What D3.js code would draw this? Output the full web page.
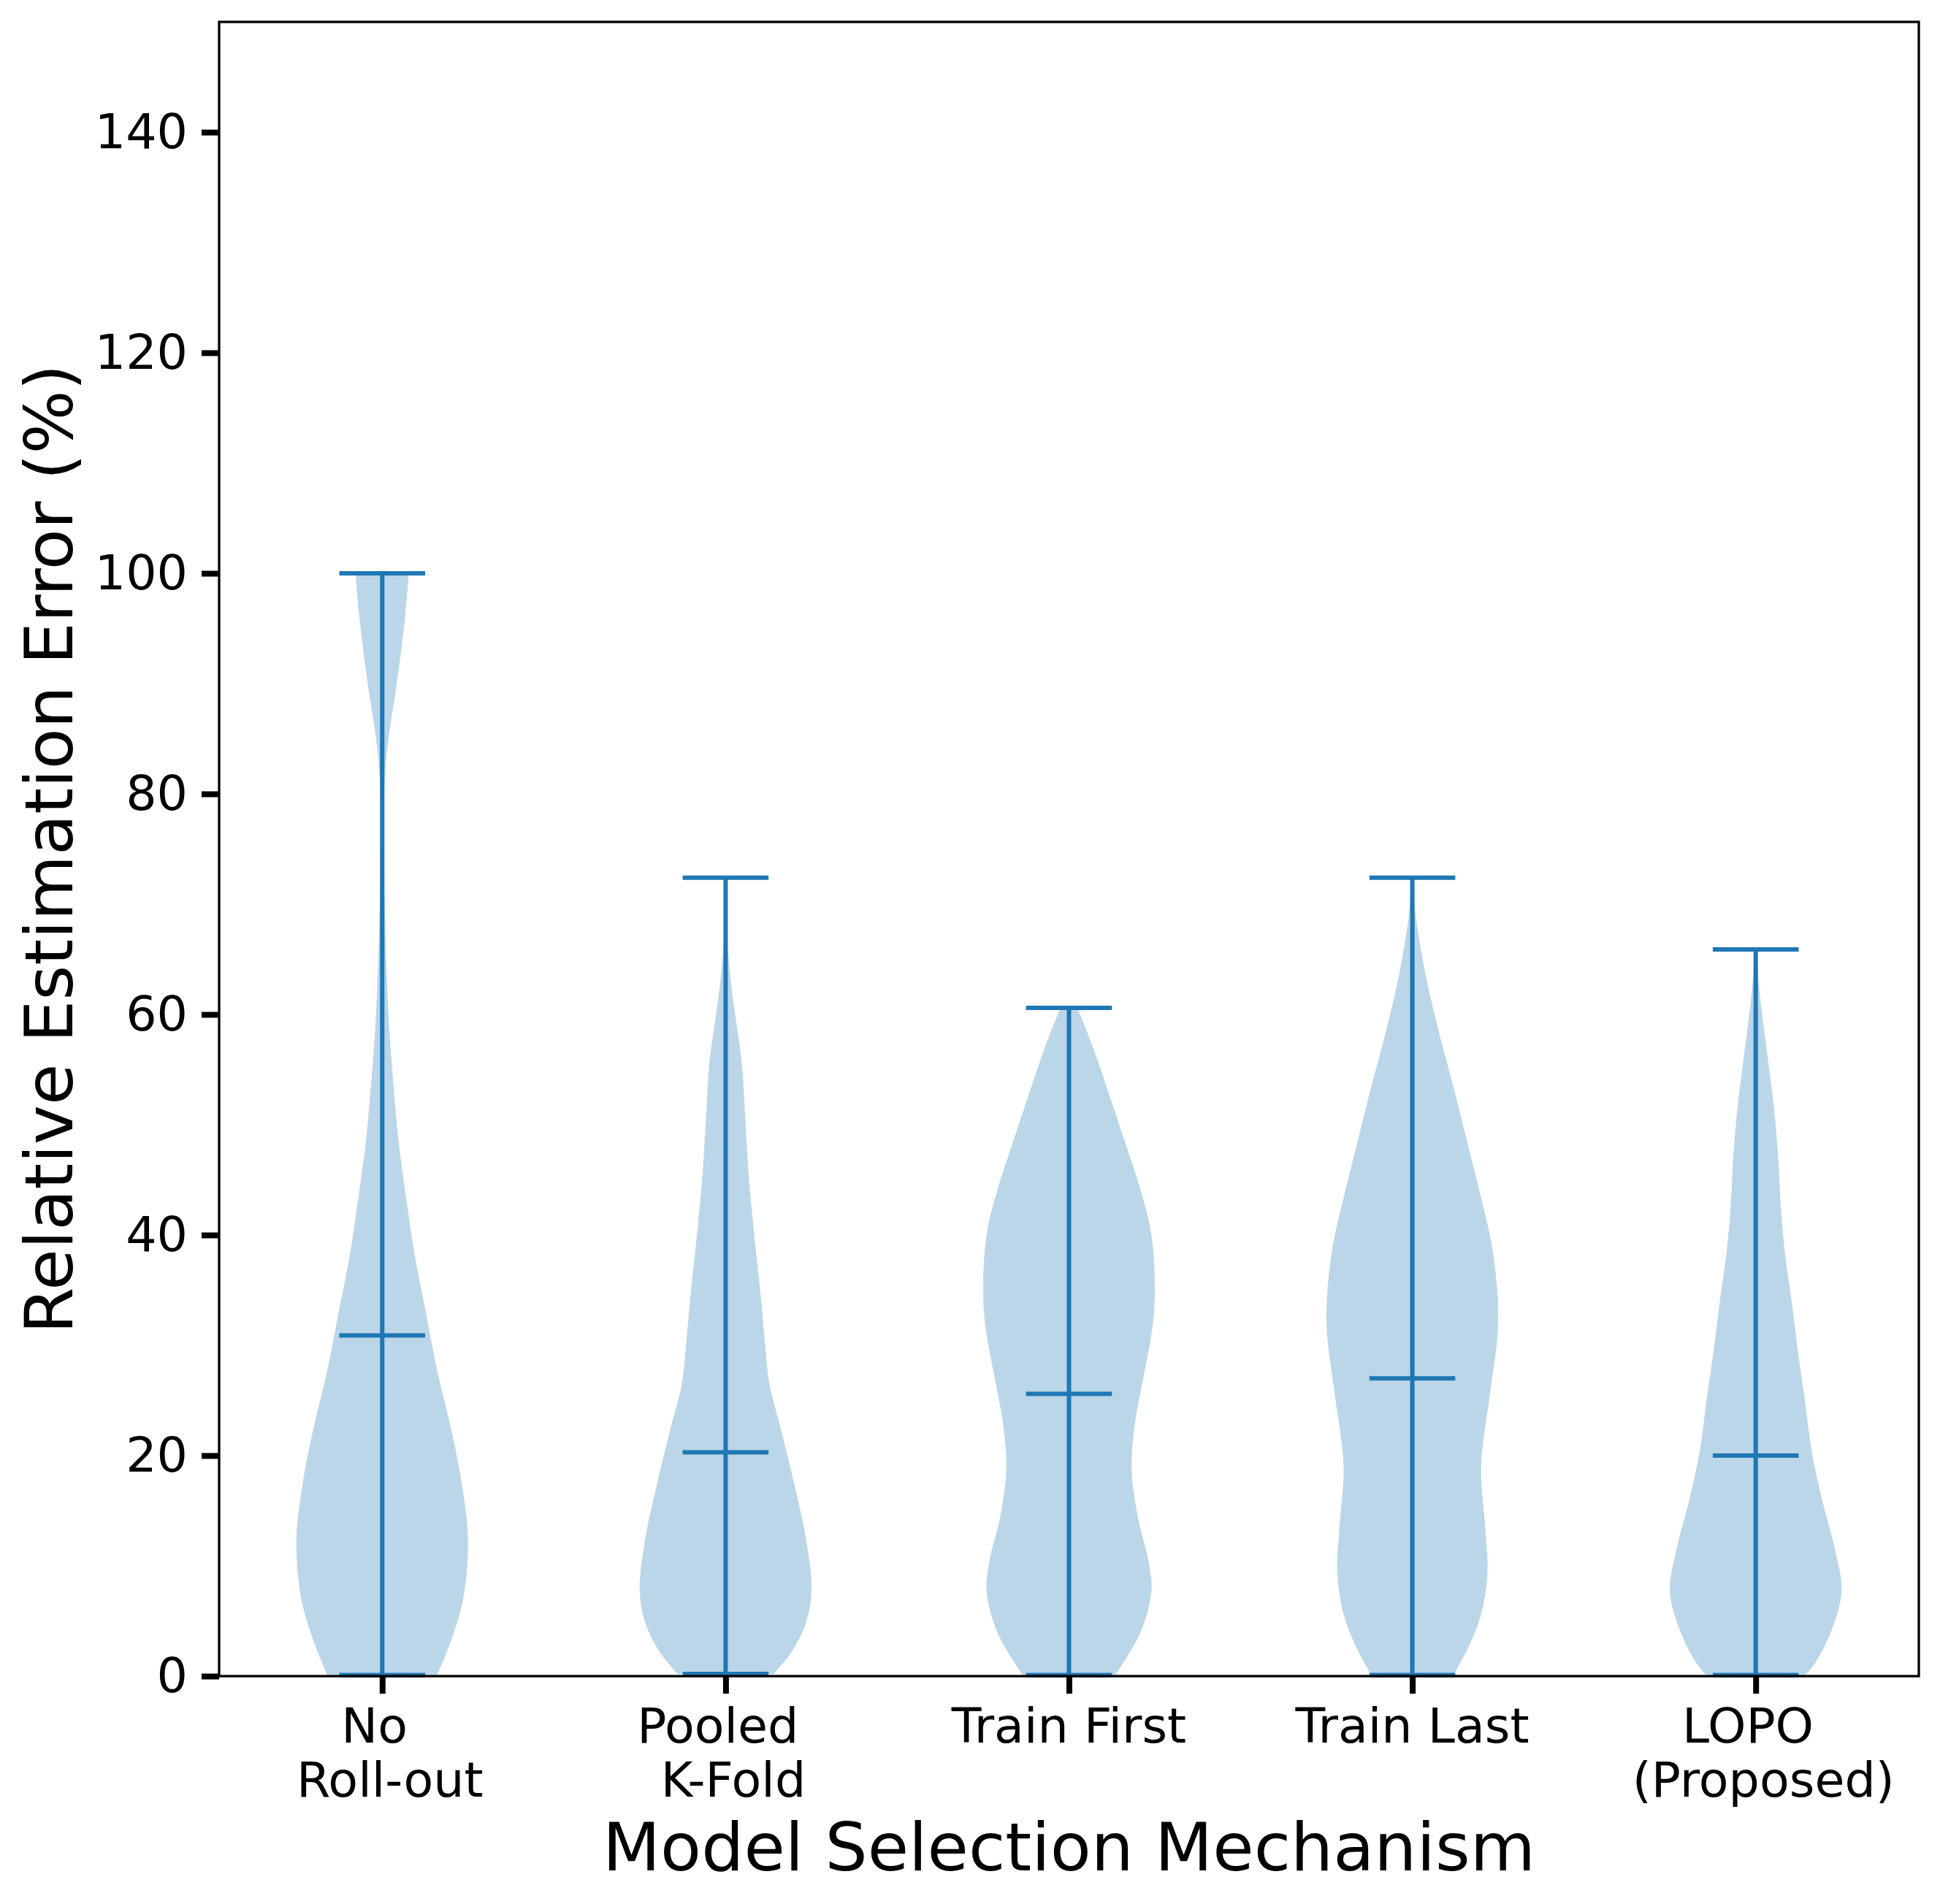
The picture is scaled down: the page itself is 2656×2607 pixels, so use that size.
<!DOCTYPE html>
<html>
<head>
<meta charset="utf-8">
<script src="https://cdn.jsdelivr.net/npm/d3@7"></script>
<style>
  body { margin: 0; background: #fff; }
  text { font-family: "DejaVu Sans", sans-serif; fill: #000; }
</style>
</head>
<body>
<div id="chart"></div>
<script>
var svgWidth = 2656;
var svgHeight = 2607;

var margin = { top: 30, right: 29, bottom: 312, left: 300 };
var width = svgWidth - margin.left - margin.right;
var height = svgHeight - margin.top - margin.bottom;

// categories (labels keep the spaces around the line break, like the original)
var labelLines = [
  ["No ", " Roll-out"],
  ["Pooled ", " K-Fold"],
  ["Train First"],
  ["Train Last"],
  ["LOPO ", " (Proposed)"]
];
var positions = [1, 2, 3, 4, 5];

// summary lines
var minima = [0.1, 0.2, 0.1, 0.1, 0.1];
var medians = [30.9, 20.3, 25.6, 27.0, 20.0];
var maxima = [100.0, 72.4, 60.6, 72.4, 65.9];

// violin outlines: [value, relative half width]
var violinNoRollout = [[0.1, 0.64], [3.2, 0.80], [6.9, 0.94], [12.1, 1.0], [17.3, 0.93], [22.5, 0.80],
  [27.7, 0.64], [32.9, 0.51], [38.1, 0.38], [43.3, 0.28], [48.5, 0.19], [53.7, 0.13], [58.9, 0.08],
  [64.1, 0.05], [69.3, 0.03], [74.0, 0.022], [79.3, 0.02], [82.7, 0.04], [86.0, 0.09], [89.5, 0.16],
  [93.0, 0.22], [96.3, 0.27], [100.0, 0.31]];
var violinPooled = [[0.2, 0.56], [2.1, 0.76], [4.7, 0.93], [7.7, 1.0], [12.3, 0.94], [17.4, 0.80],
  [22.5, 0.64], [26.5, 0.51], [30.1, 0.46], [35.2, 0.40], [40.3, 0.33], [45.3, 0.27], [50.4, 0.23],
  [55.5, 0.19], [60.6, 0.10], [63.1, 0.06], [66.7, 0.02], [70.0, 0.005], [72.4, 0.0]];
var violinTrainFirst = [[0.1, 0.54], [3.9, 0.83], [7.7, 0.96], [10.3, 0.93], [14.5, 0.80], [18.8, 0.73],
  [23.0, 0.77], [27.2, 0.87], [31.5, 0.97], [34.9, 1.0], [40.0, 0.96], [44.2, 0.83], [48.5, 0.65],
  [52.7, 0.47], [57.0, 0.28], [60.6, 0.10]];
var violinTrainLast = [[0.1, 0.48], [2.9, 0.67], [5.9, 0.81], [9.4, 0.875], [13.4, 0.85], [18.4, 0.80],
  [20.9, 0.82], [25.9, 0.91], [32.1, 1.0], [38.4, 0.94], [43.4, 0.80], [48.4, 0.64], [53.4, 0.48],
  [58.4, 0.31], [63.4, 0.16], [68.4, 0.05], [72.4, 0.0]];
var violinLOPO = [[0.1, 0.58], [1.4, 0.71], [4.1, 0.88], [7.7, 1.0], [11.6, 0.92], [16.1, 0.77],
  [20.5, 0.65], [25.2, 0.57], [29.5, 0.49], [33.9, 0.42], [38.4, 0.34], [42.8, 0.29], [47.3, 0.26],
  [51.7, 0.21], [56.1, 0.14], [60.6, 0.066], [65.9, 0.0]];
var violins = [violinNoRollout, violinPooled, violinTrainFirst, violinTrainLast, violinLOPO];

var yTicks = [0, 20, 40, 60, 80, 100, 120, 140];

var blue = "#1f77b4";

var svg = d3.select("#chart")
  .append("svg")
  .attr("width", svgWidth)
  .attr("height", svgHeight);

svg.append("rect")
  .attr("width", svgWidth)
  .attr("height", svgHeight)
  .attr("fill", "#fff");

var chartGroup = svg.append("g")
  .attr("transform", `translate(${margin.left}, ${margin.top})`);

var xScale = d3.scaleLinear()
  .domain([0.525, 5.475])
  .range([0, width]);

var yScale = d3.scaleLinear()
  .domain([0, 150])
  .range([height, 0]);

// half width of a violin = widths/2 with widths = 0.5
var halfW = xScale(1.25) - xScale(1);
var capW = xScale(1.125) - xScale(1);

// violin bodies
violins.forEach(function(profile, i) {
  var cx = xScale(positions[i]);
  var area = d3.area()
    .curve(d3.curveCatmullRom)
    .y(d => yScale(d[0]))
    .x0(d => cx - d[1] * halfW)
    .x1(d => cx + d[1] * halfW);

  chartGroup.append("path")
    .datum(profile)
    .attr("d", area)
    .attr("fill", blue)
    .attr("fill-opacity", 0.3);
});

// center bars, caps and medians
var lineGroup = chartGroup.append("g")
  .attr("stroke", blue)
  .attr("stroke-width", 6);

positions.forEach(function(p, i) {
  var cx = xScale(p);
  lineGroup.append("line")
    .attr("x1", cx).attr("x2", cx)
    .attr("y1", yScale(minima[i])).attr("y2", yScale(maxima[i]));
  [minima[i], medians[i], maxima[i]].forEach(function(v) {
    lineGroup.append("line")
      .attr("x1", cx - capW).attr("x2", cx + capW)
      .attr("y1", yScale(v)).attr("y2", yScale(v));
  });
});

// y axis
var leftAxis = d3.axisLeft(yScale)
  .tickValues(yTicks)
  .tickSize(24)
  .tickPadding(19);

var yAxis = chartGroup.append("g").call(leftAxis);
yAxis.select(".domain").remove();
yAxis.selectAll(".tick line").attr("stroke", "#000").attr("stroke-width", 8);
yAxis.selectAll(".tick text")
  .attr("font-size", "66.7px")
  .attr("font-family", "DejaVu Sans");

// x axis
var bottomAxis = d3.axisBottom(xScale)
  .tickValues(positions)
  .tickSize(24)
  .tickFormat("");

var xAxis = chartGroup.append("g")
  .attr("transform", `translate(0, ${height})`)
  .call(bottomAxis);
xAxis.select(".domain").remove();
xAxis.selectAll(".tick line").attr("stroke", "#000").attr("stroke-width", 8);

positions.forEach(function(p, i) {
  var t = chartGroup.append("text")
    .attr("text-anchor", "middle")
    .attr("font-size", "66.7px")
    .style("white-space", "pre");
  labelLines[i].forEach(function(line, j) {
    t.append("tspan")
      .attr("x", xScale(p))
      .attr("y", height + 91 + j * 74)
      .text(line);
  });
});

// frame
chartGroup.append("rect")
  .attr("width", width)
  .attr("height", height)
  .attr("fill", "none")
  .attr("stroke", "#000")
  .attr("stroke-width", 3.3);

// axis titles
chartGroup.append("text")
  .attr("x", width / 2)
  .attr("y", height + 266)
  .attr("text-anchor", "middle")
  .attr("font-size", "91.7px")
  .text("Model Selection Mechanism");

chartGroup.append("text")
  .attr("transform", "rotate(-90)")
  .attr("x", -height / 2)
  .attr("y", 99 - margin.left)
  .attr("text-anchor", "middle")
  .attr("font-size", "91.7px")
  .text("Relative Estimation Error (%)");
</script>
</body>
</html>
